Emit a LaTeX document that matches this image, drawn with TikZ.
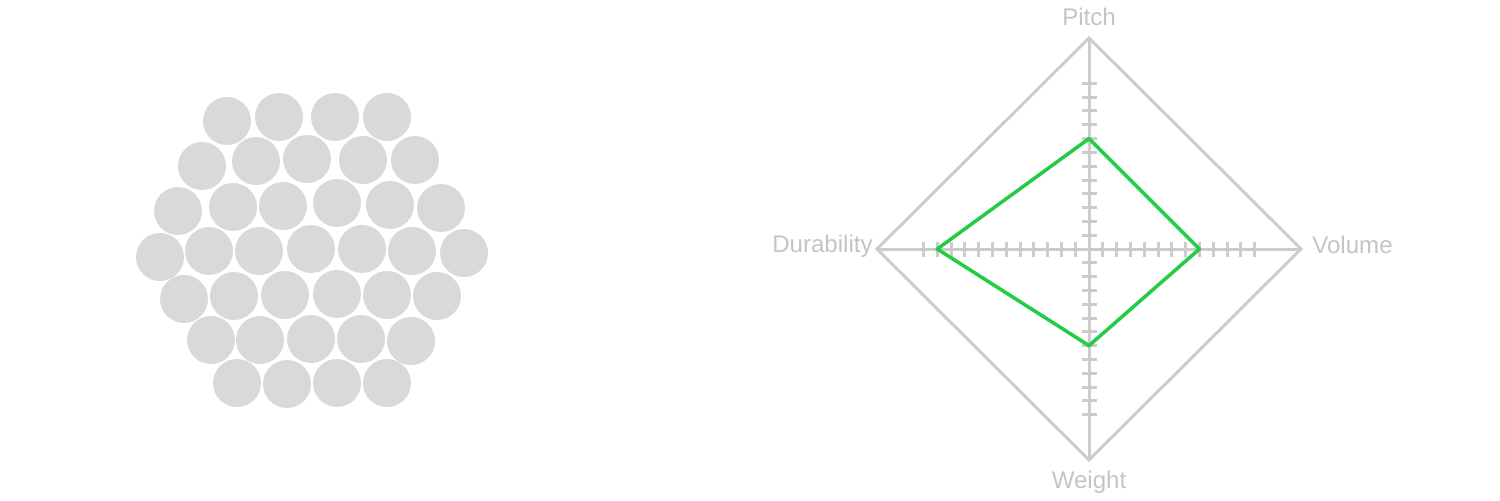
\documentclass[tikz,border=0pt]{standalone}
\usepackage{fontspec}
\setmainfont{Liberation Sans}
\usepackage{xcolor}
\usepackage{tikz}

\definecolor{ballgray}{HTML}{D9D9D9}
\definecolor{axisgray}{HTML}{CCCCCC}
\definecolor{labelgray}{HTML}{C4C4C4}
\definecolor{valuegreen}{HTML}{22CC44}

\begin{document}
\begin{tikzpicture}[x=0.02cm,y=-0.02cm]
		\useasboundingbox (0,0) rectangle (1500,500);
		\tikzstyle{ball}=[circle,fill=ballgray,inner sep=0pt,minimum size=0.96cm]
		\tikzstyle{axis}=[draw=axisgray,line width=3*0.02cm]
		\tikzstyle{value}=[draw=valuegreen,line width=3.5*0.02cm,line join=round]
		\tikzstyle{label}=[text=labelgray,inner sep=0pt,font=\fontsize{13.7}{16}\selectfont]
		% packed circles
		\foreach \x/\y [count=\n] in {227/121,279/117,335/117,387/117,
			202/166,256/161,307/159,363/160,415/160,
			178/211,233/207,283/206,337/203,390/205,441/208,
			160/257,209/251,259/251,311/249,362/249,412/251,464/253,
			184/299,234/296,285/295,337/294,387/295,437/296,
			211/340,260/340,311/339,361/339,411/341,
			237/383,287/384,337/383,387/383}
			\node[ball] (b\n) at (\x,\y) {};
		% radar chart
		\coordinate (o) at (1089,249);
		\coordinate (pitch) at (1089,38);
		\coordinate (volume) at (1301,249);
		\coordinate (weight) at (1089,460);
		\coordinate (durability) at (877,249);
		\draw[axis] (pitch) -- (volume) -- (weight) -- (durability) -- cycle;
		\draw[axis] (pitch) -- (weight);
		\draw[axis] (durability) -- (volume);
		\foreach \i in {1,...,12} {
			\draw[axis] ([shift={(\i*13.8,-7.5)}]o) -- ++(0,15);
			\draw[axis] ([shift={(-\i*13.8,-7.5)}]o) -- ++(0,15);
			\draw[axis] ([shift={(-7.5,\i*13.8)}]o) -- ++(15,0);
			\draw[axis] ([shift={(-7.5,-\i*13.8)}]o) -- ++(15,0);
		}
		\coordinate (vp) at ([shift={(0,-8*13.8)}]o);
		\coordinate (vv) at ([shift={(8*13.8,0)}]o);
		\coordinate (vw) at ([shift={(0,7*13.8)}]o);
		\coordinate (vd) at ([shift={(-11*13.8,0)}]o);
		\draw[value] (vp) -- (vv) -- (vw) -- (vd) -- cycle;
		\node[label,anchor=base] (lp) at (1089,26) {Pitch};
		\node[label,anchor=base west] (lv) at (1312,253) {Volume};
		\node[label,anchor=base] (lw) at (1089,488) {Weight};
		\node[label,anchor=base east] (ld) at (873,252) {Durability};
\end{tikzpicture}
\end{document}
